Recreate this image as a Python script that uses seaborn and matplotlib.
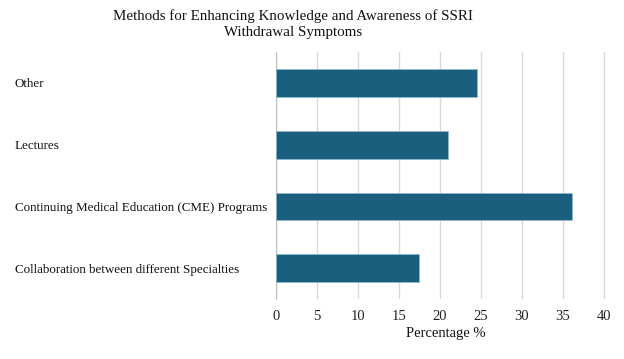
import numpy as np
import pandas as pd
import seaborn as sns
import matplotlib.pyplot as plt

# data (top to bottom as shown)
methods = ["Other", "Lectures", "Continuing Medical Education (CME) Programs",
           "Collaboration between different Specialties"]
percent = [24.6, 21.0, 36.2, 17.5]
x_ticks = [0, 5, 10, 15, 20, 25, 30, 35, 40]

df = pd.DataFrame({"method": methods, "percent": percent})

sns.set_theme(style="white")
plt.rcParams["font.family"] = ["Liberation Serif", "DejaVu Serif"]

fig = plt.figure(figsize=(6.24, 3.59), dpi=100)
ax = fig.add_axes([0.442, 0.167, 0.545, 0.688])

sns.barplot(data=df, x="percent", y="method", order=methods, color="#1b5f7f",
            saturation=1, width=0.45, edgecolor="#8fbcd0", linewidth=0.5, ax=ax, zorder=3)

ax.set_xlim(0, 41.5)
ax.set_ylim(3.5, -0.5)
ax.set_xticks(x_ticks)
ax.set_xticklabels([str(t) for t in x_ticks], fontsize=10.5, color="#222222")
ax.xaxis.grid(True, color="#d9d9d9", linewidth=1.0, zorder=0)
ax.tick_params(axis="x", length=0, pad=8)

# category boundary ticks on the left spine
ax.set_yticks(np.arange(-0.5, 4.0, 1.0), minor=True)
ax.tick_params(axis="y", which="minor", length=4, width=0.8, color="#bfbfbf", direction="out")
ax.tick_params(axis="y", which="major", length=0, pad=188)
for lbl in ax.get_yticklabels():
    lbl.set_ha("left")
    lbl.set_fontsize(9.4)
    lbl.set_color("#111111")

for s in ["top", "right", "bottom"]:
    ax.spines[s].set_visible(False)
ax.spines["left"].set_color("#bfbfbf")
ax.spines["left"].set_linewidth(0.8)

ax.set_ylabel("")
ax.set_xlabel("Percentage %", fontsize=10.5, color="#111111", labelpad=3)

fig.text(0.469, 0.975, "Methods for Enhancing Knowledge and Awareness of SSRI\nWithdrawal Symptoms",
         ha="center", va="top", fontsize=10.8, linespacing=1.35, color="#111111")

fig.savefig("out.png", dpi=100)
